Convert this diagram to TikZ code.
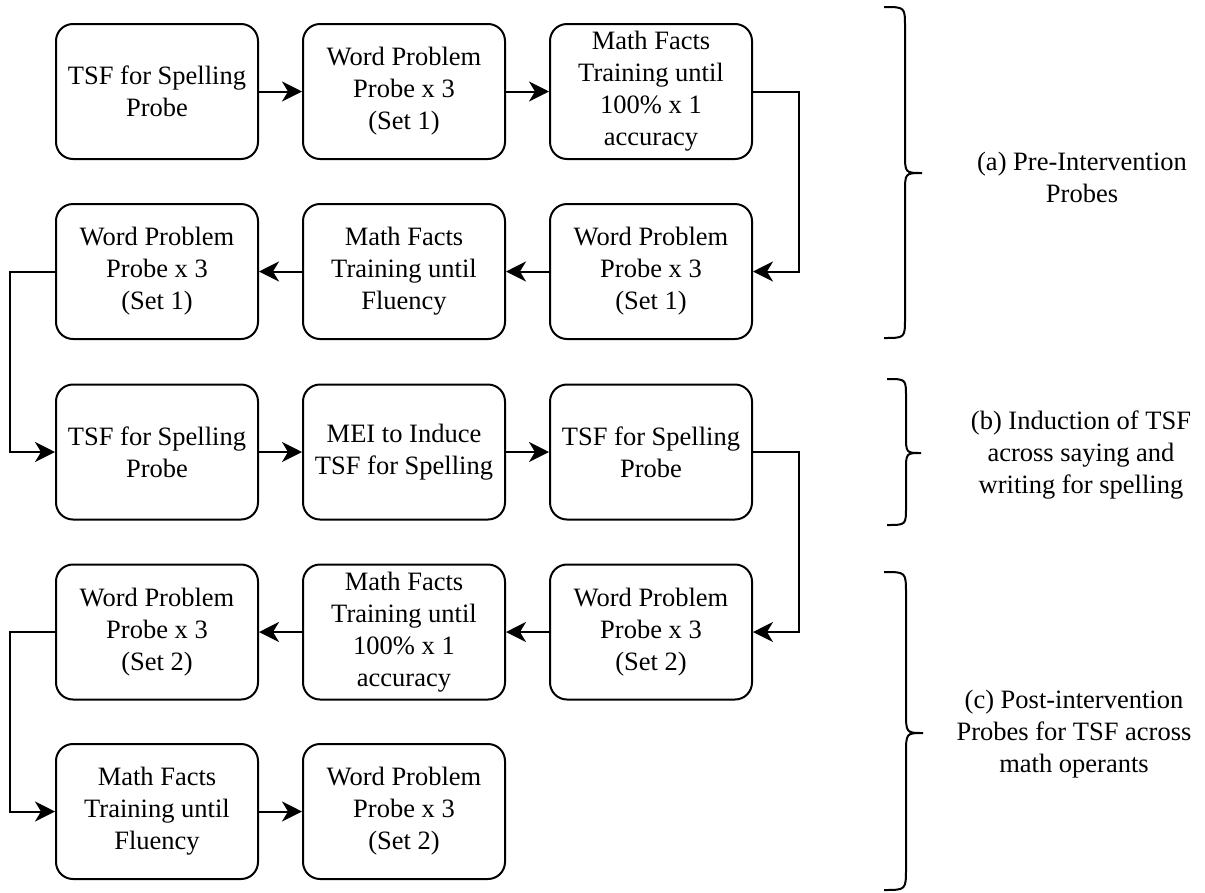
\documentclass[tikz,border=0pt]{standalone}
\usepackage{fontspec}
\setmainfont{Liberation Serif}
\usetikzlibrary{arrows.meta}
\begin{document}
\begin{tikzpicture}[x=1pt,y=-1pt,
  stepbox/.style={draw=black, line width=2pt, rounded corners=17pt, minimum width=202pt, minimum height=135pt, inner sep=0pt, align=center, font=\fontsize{26.5pt}{32pt}\selectfont},
  conn/.style={draw=black, line width=2pt, -{Stealth[length=20pt,width=20pt,inset=6pt]}},
  bracestyle/.style={draw=black, line width=2pt},
  lbl/.style={align=center, inner sep=0pt, font=\fontsize{26.5pt}{32pt}\selectfont}]
\useasboundingbox (0,0) rectangle (1205,892);
% row 1
\node[stepbox] (b11) at (157,91.5) {TSF for Spelling\\Probe};
\node[stepbox] (b12) at (404,91.5) {Word Problem\\Probe x 3\\(Set 1)};
\node[stepbox] (b13) at (651,91.5) {Math Facts\\Training until\\100\% x 1\\accuracy};
% row 2
\node[stepbox] (b21) at (157,271.5) {Word Problem\\Probe x 3\\(Set 1)};
\node[stepbox] (b22) at (404,271.5) {Math Facts\\Training until\\Fluency};
\node[stepbox] (b23) at (651,271.5) {Word Problem\\Probe x 3\\(Set 1)};
% row 3
\node[stepbox] (b31) at (157,452) {TSF for Spelling\\Probe};
\node[stepbox] (b32) at (404,452) {MEI to Induce\\TSF for Spelling};
\node[stepbox] (b33) at (651,452) {TSF for Spelling\\Probe};
% row 4
\node[stepbox] (b41) at (157,632) {Word Problem\\Probe x 3\\(Set 2)};
\node[stepbox] (b42) at (404,632) {Math Facts\\Training until\\100\% x 1\\accuracy};
\node[stepbox] (b43) at (651,632) {Word Problem\\Probe x 3\\(Set 2)};
% row 5
\node[stepbox] (b51) at (157,811.5) {Math Facts\\Training until\\Fluency};
\node[stepbox] (b52) at (404,811.5) {Word Problem\\Probe x 3\\(Set 2)};
% connectors
\draw[conn] (b11) -- (b12);
\draw[conn] (b12) -- (b13);
\draw[conn] (b13.east) -- ++(46,0) |- (b23.east);
\draw[conn] (b23) -- (b22);
\draw[conn] (b22) -- (b21);
\draw[conn] (b21.west) -- ++(-45,0) |- (b31.west);
\draw[conn] (b31) -- (b32);
\draw[conn] (b32) -- (b33);
\draw[conn] (b33.east) -- ++(46,0) |- (b43.east);
\draw[conn] (b43) -- (b42);
\draw[conn] (b42) -- (b41);
\draw[conn] (b41.west) -- ++(-45,0) |- (b51.west);
\draw[conn] (b51) -- (b52);
% braces
\draw[bracestyle] (884,7) .. controls (905,7) .. (905,27) -- (905,153) .. controls (905,173) .. (922,173) .. controls (905,173) .. (905,193) -- (905,318) .. controls (905,338) .. (884,338);
\draw[bracestyle] (887,379) .. controls (906,379) .. (906,397) -- (906,435) .. controls (906,453) .. (921,453) .. controls (906,453) .. (906,471) -- (906,507) .. controls (906,525) .. (887,525);
\draw[bracestyle] (884,572) .. controls (906,572) .. (906,594) -- (906,711) .. controls (906,733) .. (923,733) .. controls (906,733) .. (906,755) -- (906,868) .. controls (906,890) .. (884,890);
% labels
\node[lbl] (la) at (1082,177) {(a) Pre-Intervention\\Probes};
\node[lbl] (lb) at (1081,455) {(b) Induction of TSF\\across saying and\\writing for spelling};
\node[lbl] (lc) at (1074,734) {(c) Post-intervention\\Probes for TSF across\\math operants};
\end{tikzpicture}
\end{document}
